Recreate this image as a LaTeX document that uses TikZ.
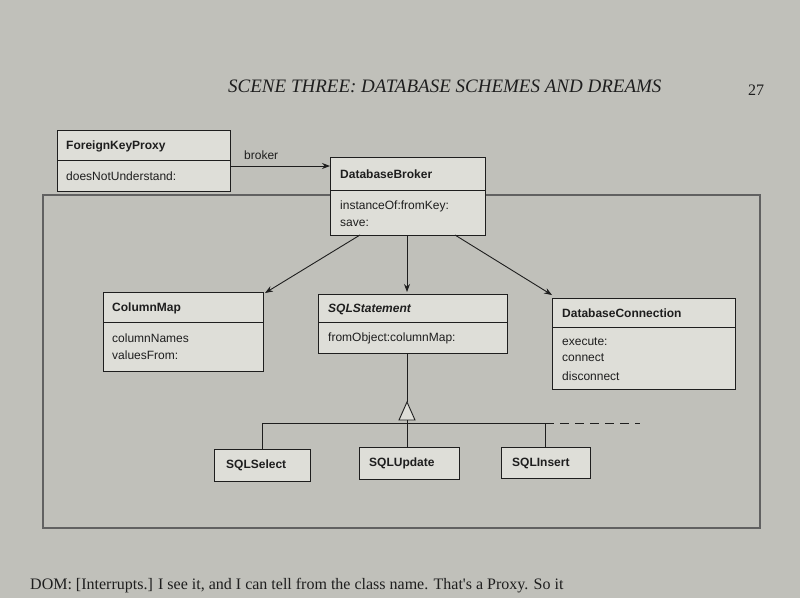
\documentclass[tikz,border=0pt]{standalone}
\usepackage{fontspec}
\setmainfont{Liberation Sans}
\newfontfamily\serifpage{Liberation Serif}
\usetikzlibrary{arrows.meta}
\definecolor{page}{RGB}{192,192,186}
\definecolor{boxfill}{RGB}{222,222,216}
\definecolor{ink}{RGB}{30,30,30}
\begin{document}
\begin{tikzpicture}[x=1pt,y=-1pt,
  cls/.style={draw=ink,fill=boxfill,line width=0.9pt},
  txt/.style={anchor=west,inner sep=0pt,font=\fontsize{12}{14}\selectfont,text=ink},
  ttl/.style={anchor=west,inner sep=0pt,font=\fontsize{12}{14}\selectfont\bfseries,text=ink},
  conn/.style={draw=ink,line width=0.9pt},
  arr/.style={conn,-{Stealth[length=8pt,width=6pt]}}]
\fill[page] (0,0) rectangle (800,598);
\useasboundingbox (0,0) rectangle (800,598);
\node[anchor=west,inner sep=0pt,font=\serifpage\itshape\fontsize{19}{21}\selectfont,text=ink] (hdr) at (228,86) {SCENE THREE: DATABASE SCHEMES AND DREAMS};
\node[anchor=west,inner sep=0pt,font=\serifpage\fontsize{16}{18}\selectfont,text=ink] (pg) at (748,90) {27};
% container
\draw[draw=ink!70,line width=1.2pt] (43,195) rectangle (760,528);
% ForeignKeyProxy
\draw[cls] (57,130) rectangle (230,191);
\draw[conn] (57,160) -- (230,160);
\node[ttl] (fkp) at (66,146) {ForeignKeyProxy};
\node[txt] at (66,176) {doesNotUnderstand:};
\coordinate (fkpR) at (230,166);
% DatabaseBroker
\draw[cls] (330,157) rectangle (485,235);
\draw[conn] (330,190) -- (485,190);
\node[ttl] (dbb) at (340,174) {DatabaseBroker};
\node[txt] at (340,206) {instanceOf:fromKey:};
\node[txt] at (340,223) {save:};
\coordinate (dbbL) at (330,166);
\draw[arr] (fkpR) -- (dbbL);
\node[txt] (brk) at (244,155) {broker};
% ColumnMap
\draw[cls] (103,292) rectangle (263,371);
\draw[conn] (103,322) -- (263,322);
\node[ttl] at (112,308) {ColumnMap};
\node[txt] at (112,338) {columnNames};
\node[txt] at (112,355) {valuesFrom:};
% SQLStatement
\draw[cls] (318,294) rectangle (507,353);
\draw[conn] (318,322) -- (507,322);
\node[ttl,font=\fontsize{12}{14}\selectfont\bfseries\itshape] at (328,309) {SQLStatement};
\node[txt] at (328,338) {fromObject:columnMap:};
% DatabaseConnection
\draw[cls] (552,298) rectangle (735,389);
\draw[conn] (552,327) -- (735,327);
\node[ttl] at (562,313) {DatabaseConnection};
\node[txt] at (562,342) {execute:};
\node[txt] at (562,358) {connect};
\node[txt] at (562,376) {disconnect};
% associations
\draw[arr] (360,235) -- (265,293);
\draw[arr] (407,235) -- (407,292);
\draw[arr] (455,235) -- (552,295);
% inheritance
\draw[conn] (407,353) -- (407,402);
\draw[conn,fill=boxfill] (407,402) -- (399,420) -- (415,420) -- cycle;
\draw[conn] (407,420) -- (407,423);
\draw[conn] (262,423) -- (545,423);
\draw[conn,dashed,dash pattern=on 9pt off 6pt] (545,423) -- (640,423);
\draw[conn] (262,423) -- (262,449);
\draw[conn] (407,423) -- (407,447);
\draw[conn] (545,423) -- (545,447);
% subclasses
\draw[cls] (214,449) rectangle (310,481);
\node[ttl] at (226,465) {SQLSelect};
\draw[cls] (359,447) rectangle (459,479);
\node[ttl] at (369,463) {SQLUpdate};
\draw[cls] (501,447) rectangle (590,478);
\node[ttl] at (512,463) {SQLInsert};
% bottom text
\node[anchor=west,inner sep=0pt,font=\serifpage\fontsize{16}{18}\selectfont,text=ink] at (30,586) {DOM: [Interrupts.] I see it, and I can tell from the class name. That's a Proxy. So it};
\end{tikzpicture}
\end{document}
